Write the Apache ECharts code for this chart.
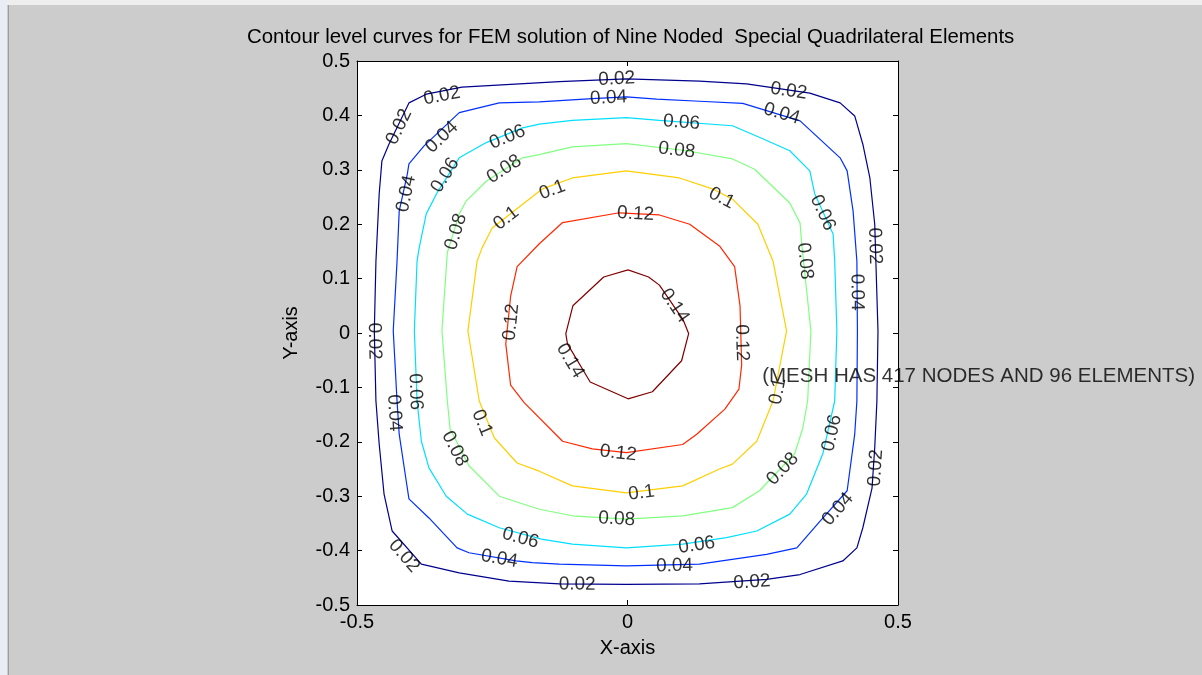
<!DOCTYPE html>
<html>
<head>
<meta charset="utf-8">
<script src="https://cdn.jsdelivr.net/npm/echarts@6/dist/echarts.min.js"></script>
<style>
  html, body { margin: 0; padding: 0; background: #cccccc; }
  #chart { width: 1202px; height: 675px; }
</style>
</head>
<body>
<div id="chart"></div>
<script>
// Contour levels of the FEM solution and their tick values
const levels = [0.02, 0.04, 0.06, 0.08, 0.1, 0.12, 0.14];
const xTicks = [-0.5, 0, 0.5];
const yTicks = [-0.5, -0.4, -0.3, -0.2, -0.1, 0, 0.1, 0.2, 0.3, 0.4, 0.5];

// Contour polylines (x, y) for each level, traced around the centre
const contour002 = [[-0.002,0.467],[-0.126,0.462],[-0.306,0.452],[-0.372,0.439],[-0.404,0.423],[-0.441,0.347],[-0.454,0.316],[-0.459,0.256],[-0.465,0.132],[-0.468,0.004],[-0.465,-0.125],[-0.459,-0.204],[-0.45,-0.296],[-0.435,-0.364],[-0.381,-0.425],[-0.311,-0.441],[-0.219,-0.456],[-0.126,-0.461],[-0.002,-0.462],[0.133,-0.461],[0.257,-0.453],[0.319,-0.444],[0.398,-0.419],[0.424,-0.395],[0.435,-0.358],[0.452,-0.285],[0.457,-0.211],[0.461,-0.125],[0.463,0.004],[0.457,0.2],[0.448,0.285],[0.435,0.347],[0.42,0.399],[0.393,0.423],[0.337,0.441],[0.22,0.458],[0.133,0.463]];
const contour004 = [[-0.002,0.434],[-0.065,0.431],[-0.163,0.425],[-0.237,0.423],[-0.311,0.405],[-0.376,0.344],[-0.404,0.311],[-0.407,0.292],[-0.422,0.224],[-0.426,0.132],[-0.433,0.004],[-0.426,-0.125],[-0.422,-0.186],[-0.409,-0.272],[-0.404,-0.305],[-0.367,-0.34],[-0.315,-0.395],[-0.293,-0.404],[-0.206,-0.419],[-0.176,-0.422],[-0.126,-0.425],[-0.002,-0.428],[0.133,-0.425],[0.257,-0.407],[0.313,-0.395],[0.356,-0.346],[0.406,-0.29],[0.42,-0.186],[0.424,-0.125],[0.425,0.004],[0.424,0.132],[0.417,0.224],[0.406,0.298],[0.393,0.322],[0.319,0.39],[0.213,0.422],[0.133,0.426],[0.054,0.43]];
const contour006 = [[-0.002,0.396],[-0.102,0.391],[-0.163,0.384],[-0.194,0.377],[-0.261,0.35],[-0.311,0.322],[-0.352,0.258],[-0.372,0.219],[-0.385,0.157],[-0.389,0.132],[-0.394,0.004],[-0.389,-0.125],[-0.381,-0.199],[-0.367,-0.248],[-0.335,-0.3],[-0.296,-0.333],[-0.237,-0.358],[-0.159,-0.379],[-0.102,-0.388],[-0.002,-0.395],[0.102,-0.388],[0.183,-0.376],[0.239,-0.364],[0.3,-0.333],[0.331,-0.296],[0.361,-0.222],[0.383,-0.125],[0.387,0.004],[0.383,0.132],[0.38,0.182],[0.346,0.256],[0.337,0.298],[0.3,0.335],[0.25,0.357],[0.194,0.381],[0.059,0.391]];
const contour008 = [[-0.002,0.348],[-0.102,0.342],[-0.163,0.328],[-0.194,0.322],[-0.261,0.279],[-0.298,0.243],[-0.311,0.219],[-0.333,0.148],[-0.343,0.004],[-0.333,-0.125],[-0.328,-0.176],[-0.293,-0.244],[-0.237,-0.3],[-0.163,-0.324],[-0.102,-0.336],[-0.002,-0.342],[0.102,-0.336],[0.194,-0.321],[0.244,-0.29],[0.309,-0.222],[0.324,-0.175],[0.333,-0.125],[0.339,0.004],[0.322,0.164],[0.319,0.202],[0.3,0.239],[0.235,0.301],[0.194,0.32],[0.109,0.335]];
const contour010 = [[-0.002,0.298],[-0.102,0.285],[-0.157,0.265],[-0.25,0.193],[-0.269,0.156],[-0.278,0.132],[-0.295,0.004],[-0.274,-0.125],[-0.246,-0.193],[-0.204,-0.239],[-0.163,-0.254],[-0.102,-0.281],[-0.002,-0.294],[0.102,-0.281],[0.17,-0.25],[0.194,-0.241],[0.239,-0.199],[0.269,-0.125],[0.294,0.004],[0.269,0.132],[0.241,0.2],[0.194,0.246],[0.157,0.265],[0.096,0.285]];
const contour012 = [[-0.015,0.221],[-0.12,0.203],[-0.163,0.164],[-0.204,0.122],[-0.216,0.068],[-0.225,-0.02],[-0.216,-0.096],[-0.191,-0.128],[-0.12,-0.199],[-0.065,-0.213],[-0.002,-0.22],[0.102,-0.205],[0.128,-0.186],[0.18,-0.14],[0.206,-0.103],[0.211,-0.059],[0.208,0.05],[0.198,0.122],[0.17,0.16],[0.115,0.2],[0.059,0.217]];
const contour014 = [[0.001,0.116],[-0.044,0.103],[-0.101,0.05],[-0.114,-0.001],[-0.111,-0.02],[-0.069,-0.09],[0.001,-0.121],[0.046,-0.108],[0.1,-0.051],[0.113,-0.001],[0.103,0.024],[0.059,0.088],[0.039,0.103]];

// Where each level's value is written along its curve
const labels002 = [[-0.020,0.467],[-0.343,0.436],[-0.422,0.379],[0.298,0.445],[0.457,0.160],[-0.468,-0.015],[0.459,-0.248],[-0.413,-0.41],[-0.093,-0.462],[0.230,-0.458]];
const labels004 = [[-0.035,0.432],[-0.343,0.360],[-0.409,0.256],[0.285,0.403],[0.424,0.075],[-0.431,-0.147],[-0.237,-0.415],[0.087,-0.428],[0.389,-0.324]];
const labels006 = [[0.1,0.387],[-0.222,0.360],[-0.337,0.290],[0.361,0.221],[-0.392,-0.108],[0.378,-0.184],[-0.198,-0.377],[0.128,-0.390]];
const labels008 = [[0.091,0.336],[-0.228,0.301],[-0.317,0.186],[0.328,0.132],[-0.319,-0.213],[-0.020,-0.342],[0.287,-0.25]];
const labels010 = [[-0.139,0.263],[-0.224,0.211],[0.174,0.248],[-0.269,-0.165],[0.026,-0.294],[0.278,-0.107]];
const labels012 = [[0.015,0.219],[-0.215,0.020],[0.211,-0.018],[-0.017,-0.221]];
const labels014 = [[0.087,0.050],[-0.106,-0.051]];

const contours = [contour002, contour004, contour006, contour008, contour010, contour012, contour014];
const labelSpots = [labels002, labels004, labels006, labels008, labels010, labels012, labels014];

// Mesh note written inside the axes
const meshNote = '(MESH HAS 417 NODES AND 96 ELEMENTS)';
const meshNoteAt = [0.248, -0.079];

const titleText = 'Contour level curves for FEM solution of Nine Noded  Special Quadrilateral Elements';

// jet colour map sampled at the seven levels
const levelColors = ['#00008f', '#0030ff', '#00dfff', '#80ff80', '#ffcf00', '#ff2800', '#800000'];
const FONT = '"Liberation Sans", Arial, Helvetica, sans-serif';

const chart = echarts.init(document.getElementById('chart'), null, { renderer: 'canvas' });

const fmt = v => String(Number(v.toFixed(2)));

function axisCommon(showLabels) {
  return {
    type: 'value',
    min: -0.5,
    max: 0.5,
    axisLine: { show: true, onZero: false, lineStyle: { color: '#000', width: 1 } },
    axisTick: { show: true, inside: true, length: 5, lineStyle: { color: '#000', width: 1 } },
    axisLabel: {
      show: showLabels, color: '#000', fontSize: 20, fontFamily: FONT, margin: 7,
      formatter: v => fmt(v)
    },
    splitLine: { show: false }
  };
}

const lineSeries = contours.map((pts, i) => ({
  type: 'line',
  name: fmt(levels[i]),
  xAxisIndex: 0,
  yAxisIndex: 0,
  data: pts.concat([pts[0]]),
  showSymbol: false,
  symbol: 'none',
  smooth: false,
  silent: true,
  clip: false,
  lineStyle: { color: levelColors[i], width: 1.2 },
  z: 2
}));

const option = {
  animation: false,
  backgroundColor: '#cccccc',
  title: {
    text: titleText,
    left: 242,
    top: 22,
    textStyle: { color: '#000', fontSize: 20.4, fontWeight: 'normal', fontFamily: FONT }
  },
  grid: { left: 357, right: 304, top: 61, bottom: 70, show: true, backgroundColor: '#ffffff', borderWidth: 0 },
  xAxis: [
    Object.assign(axisCommon(true), {
      position: 'bottom', interval: xTicks[1] - xTicks[0],
      name: 'X-axis', nameLocation: 'middle', nameGap: 33,
      nameTextStyle: { color: '#000', fontSize: 20, fontFamily: FONT }
    }),
    Object.assign(axisCommon(false), { position: 'top', interval: xTicks[1] - xTicks[0] })
  ],
  yAxis: [
    Object.assign(axisCommon(true), {
      position: 'left', interval: yTicks[1] - yTicks[0],
      name: 'Y-axis', nameLocation: 'middle', nameGap: 56, nameRotate: 90,
      nameTextStyle: { color: '#000', fontSize: 20, fontFamily: FONT }
    }),
    Object.assign(axisCommon(false), { position: 'right', interval: yTicks[1] - yTicks[0] })
  ],
  graphic: [
    { type: 'rect', shape: { x: 0, y: 0, width: 1202, height: 5 }, style: { fill: '#eeeeee' }, z: 100 },
    { type: 'rect', shape: { x: 0, y: 0, width: 7, height: 675 }, style: { fill: '#e9eef4' }, z: 100 },
    { type: 'line', shape: { x1: 8.5, y1: 5, x2: 8.5, y2: 675 }, style: { stroke: '#9e9e9e', lineWidth: 1 }, z: 100 }
  ],
  series: lineSeries
};

chart.setOption(option);

// Rotate each value label along the local direction of its curve
function labelAngle(pts, p) {
  const closed = pts.concat([pts[0]]);
  const q = chart.convertToPixel({ seriesIndex: 0 }, p);
  let bestD = Infinity, bestA = null, bestB = null;
  for (let i = 0; i < closed.length - 1; i++) {
    const a = chart.convertToPixel({ seriesIndex: 0 }, closed[i]);
    const b = chart.convertToPixel({ seriesIndex: 0 }, closed[i + 1]);
    const dx = b[0] - a[0], dy = b[1] - a[1];
    const L2 = dx * dx + dy * dy || 1;
    let t = ((q[0] - a[0]) * dx + (q[1] - a[1]) * dy) / L2;
    t = Math.max(0, Math.min(1, t));
    const cx = a[0] + t * dx - q[0], cy = a[1] + t * dy - q[1];
    const d = cx * cx + cy * cy;
    if (d < bestD) { bestD = d; bestA = a; bestB = b; }
  }
  let ang = Math.atan2(-(bestB[1] - bestA[1]), bestB[0] - bestA[0]) * 180 / Math.PI;
  if (ang > 90) ang -= 180;
  if (ang <= -90) ang += 180;
  return ang;
}

const labelSeries = labelSpots.map((spots, i) => ({
  type: 'scatter',
  xAxisIndex: 0,
  yAxisIndex: 0,
  symbol: 'circle',
  symbolSize: 1,
  silent: true,
  itemStyle: { color: 'rgba(0,0,0,0)' },
  label: {
    show: true, position: 'inside', color: '#000', fontSize: 19, fontFamily: FONT,
    formatter: () => fmt(levels[i])
  },
  data: spots.map(p => ({ value: p, label: { rotate: labelAngle(contours[i], p) } })),
  z: 5
}));

labelSeries.push({
  type: 'scatter',
  xAxisIndex: 0,
  yAxisIndex: 0,
  symbol: 'circle',
  symbolSize: 1,
  silent: true,
  itemStyle: { color: 'rgba(0,0,0,0)' },
  label: {
    show: true, position: 'right', distance: 0, color: '#000', fontSize: 20.5, fontFamily: FONT,
    formatter: () => meshNote
  },
  data: [meshNoteAt],
  z: 6
});

chart.setOption({ series: lineSeries.concat(labelSeries) });
</script>
</body>
</html>
